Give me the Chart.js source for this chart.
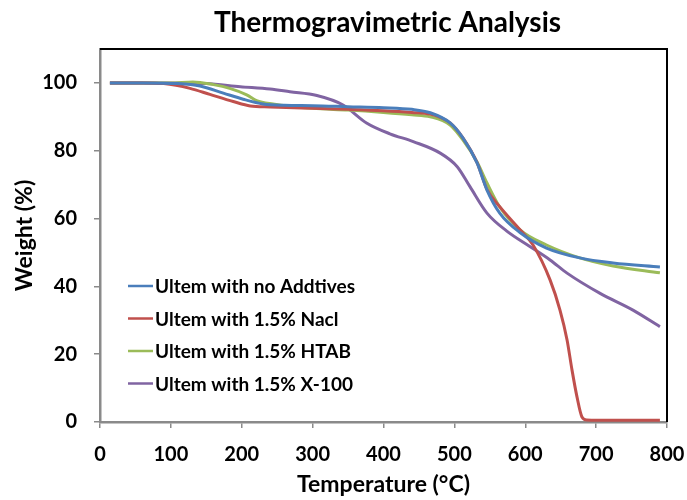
<!DOCTYPE html>
<html>
<head>
<meta charset="utf-8">
<script src="https://cdn.jsdelivr.net/npm/chart.js@4"></script>
<style>
  html, body { margin: 0; padding: 0; background: #fff; }
  #wrap { width: 687px; height: 500px; }
</style>
</head>
<body>
<div id="wrap"><canvas id="tgaChart" width="687" height="500"></canvas></div>
<script>
// Thermogravimetric curves
const seriesNames = ['Ultem with no Addtives', 'Ultem with 1.5% Nacl', 'Ultem with 1.5% HTAB', 'Ultem with 1.5% X-100'];
const seriesColors = ['#4a7ebb', '#c0504d', '#9bbb59', '#8064a2'];

const tempPlain = [14, 60, 110, 141, 174, 202, 230, 260, 300, 350, 400, 440, 466, 494, 512, 532, 546, 564, 593, 630, 677, 724, 790];
const weightPlain = [100, 100, 99.8, 99.1, 97, 95.2, 93.8, 93.4, 93.3, 93, 92.7, 92.2, 91.2, 88.2, 83.8, 76.4, 68.4, 61.6, 55.8, 51.3, 48.4, 46.9, 45.7];

const tempNacl = [14, 60, 90, 127, 155, 188, 212, 240, 300, 350, 400, 440, 466, 494, 512, 532, 546, 564, 593, 611, 635, 649, 659, 666, 673, 680, 687, 720, 790];
const weightNacl = [100, 100, 99.8, 98.4, 96.6, 94.5, 93.2, 92.9, 92.5, 92.2, 91.8, 91.3, 90.8, 88.2, 83.8, 76.5, 68.6, 63.5, 56.6, 52.2, 41.9, 33, 24.2, 15.3, 7.4, 1.5, 0.6, 0.5, 0.5];

const tempHtab = [14, 60, 100, 131, 160, 183, 207, 221, 244, 300, 350, 400, 440, 466, 494, 512, 532, 546, 564, 593, 630, 677, 724, 790];
const weightHtab = [100, 100, 100, 100.3, 99.5, 98.4, 96.5, 94.8, 93.8, 92.5, 92, 91.3, 90.6, 90, 87.6, 83.2, 76.7, 70.5, 63.4, 56.6, 52.2, 48.4, 46, 44];

const tempX100 = [14, 100, 150, 198, 240, 268, 306, 343, 376, 409, 442, 480, 504, 522, 546, 574, 607, 635, 659, 705, 752, 790];
const weightX100 = [100, 100, 99.8, 98.9, 98.2, 97.4, 96.3, 93.5, 88.2, 85, 82.7, 79.3, 75.3, 69.4, 61.6, 56.3, 51.7, 47.8, 43.9, 38, 33, 28.1];

const xTicks = [0, 100, 200, 300, 400, 500, 600, 700, 800];
const yTicks = [0, 20, 40, 60, 80, 100];

const temps = [tempPlain, tempNacl, tempHtab, tempX100];
const weights = [weightPlain, weightNacl, weightHtab, weightX100];

function toPoints(t, w) {
    return t.map((x, i) => ({ x: x, y: w[i] }));
}

const fontFamily = 'Lato, "Open Sans", sans-serif';

// title centred over the plot area
const titlePlugin = {
    id: 'plotTitle',
    afterDraw(chart) {
        const ctx = chart.ctx;
        const area = chart.chartArea;
        ctx.save();
        ctx.font = 'bold 28px ' + fontFamily;
        ctx.fillStyle = '#000';
        ctx.textAlign = 'center';
        ctx.textBaseline = 'middle';
        ctx.fillText('Thermogravimetric Analysis', (area.left + area.right) / 2 + 4, 23);
        ctx.restore();
    }
};

// black top and right edges of the plot frame
const framePlugin = {
    id: 'frame',
    afterDatasetsDraw(chart) {
        const ctx = chart.ctx;
        const a = chart.chartArea;
        ctx.save();
        ctx.strokeStyle = '#000';
        ctx.lineWidth = 2;
        ctx.beginPath();
        ctx.moveTo(a.left, a.top);
        ctx.lineTo(a.right, a.top);
        ctx.lineTo(a.right, a.bottom);
        ctx.stroke();
        ctx.restore();
    }
};

// legend sitting inside the plot area
const insideLegend = {
    id: 'insideLegend',
    afterDatasetsDraw(chart) {
        const ctx = chart.ctx;
        ctx.save();
        ctx.font = 'bold 19px ' + fontFamily;
        ctx.textBaseline = 'middle';
        ctx.textAlign = 'left';
        chart.data.datasets.forEach((ds, i) => {
            const y = 286 + i * 32.5;
            ctx.strokeStyle = ds.borderColor;
            ctx.lineWidth = 2.5;
            ctx.beginPath();
            ctx.moveTo(128, y);
            ctx.lineTo(153, y);
            ctx.stroke();
            ctx.fillStyle = '#000';
            ctx.fillText(ds.label, 155, y + 1);
        });
        ctx.restore();
    }
};

const ctx = document.getElementById('tgaChart').getContext('2d');
window.tgaChart = new Chart(ctx, {
    type: 'line',
    data: {
        datasets: seriesNames.map((name, i) => ({
            label: name,
            data: toPoints(temps[i], weights[i]),
            borderColor: seriesColors[i],
            backgroundColor: seriesColors[i],
            borderWidth: 3,
            pointRadius: 0,
            cubicInterpolationMode: 'monotone',
            fill: false
        }))
    },
    options: {
        responsive: false,
        animation: false,
        layout: { padding: { top: 49, right: 0, left: 0, bottom: 0 } },
        plugins: {
            legend: { display: false },
            title: { display: false },
            tooltip: { enabled: false }
        },
        scales: {
            x: {
                type: 'linear',
                min: 0,
                max: 800,
                afterBuildTicks: s => { s.ticks = xTicks.map(v => ({ value: v })); },
                afterFit: s => { s.height = 78; s.paddingLeft = 0; s.paddingRight = 20; },
                ticks: {
                    color: '#000',
                    padding: 15,
                    font: { family: fontFamily, size: 20, weight: 'bold' }
                },
                grid: { drawOnChartArea: false, drawTicks: true, tickLength: 6, color: '#8a8a8a', lineWidth: 1.5 },
                border: { color: '#8a8a8a', width: 2.5 },
                title: {
                    display: true,
                    text: 'Temperature (°C)',
                    color: '#000',
                    padding: { top: 0, bottom: 2 },
                    font: { family: fontFamily, size: 23, weight: 'bold' }
                }
            },
            y: {
                min: 0,
                max: 110,
                afterBuildTicks: s => { s.ticks = yTicks.map(v => ({ value: v })); },
                afterFit: s => { s.width = 100; },
                ticks: {
                    color: '#000',
                    padding: 17,
                    font: { family: fontFamily, size: 20, weight: 'bold' }
                },
                grid: { drawOnChartArea: false, drawTicks: true, tickLength: 6, color: '#8a8a8a', lineWidth: 1.5 },
                border: { color: '#8a8a8a', width: 2.5 },
                title: {
                    display: true,
                    text: 'Weight (%)',
                    color: '#000',
                    padding: { top: 11, bottom: 11 },
                    font: { family: fontFamily, size: 23, weight: 'bold' }
                }
            }
        }
    },
    plugins: [titlePlugin, framePlugin, insideLegend]
});
</script>
</body>
</html>
